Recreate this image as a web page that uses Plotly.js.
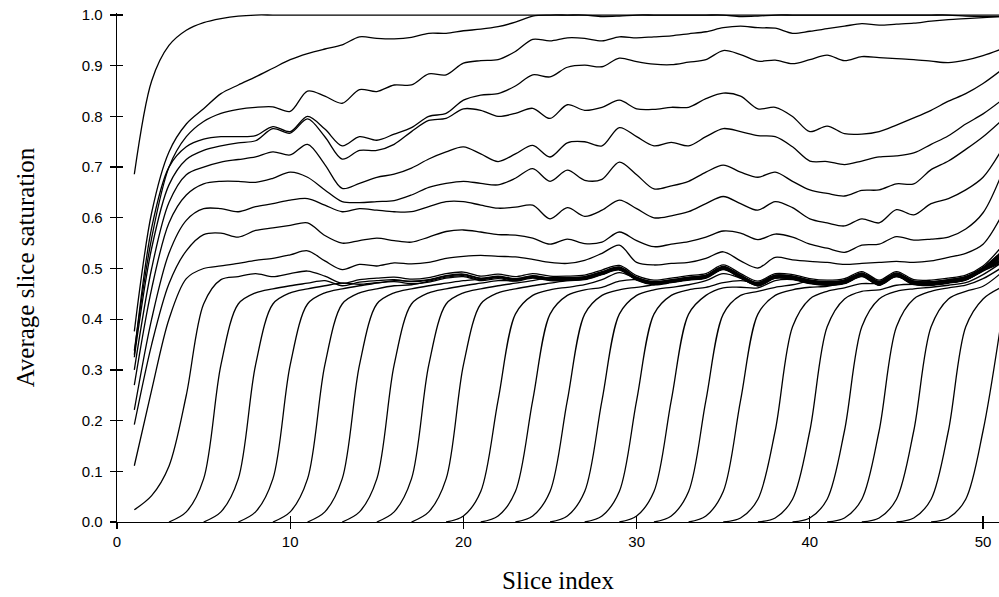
<!DOCTYPE html>
<html>
<head>
<meta charset="utf-8">
<script src="https://cdn.plot.ly/plotly-3.0.1.min.js"></script>
<style>html,body{margin:0;padding:0;background:#fff;}#chart{width:999px;height:597px;}</style>
</head>
<body>
<div id="chart"></div>
<script>
// Slice positions (x) shared by all curves
const slices = [1,2,3,4,5,6,7,8,9,10,11,12,13,14,15,16,17,18,19,20,21,22,23,24,25,26,27,28,29,30,31,32,33,34,35,36,37,38,39,40,41,42,43,44,45,46,47,48,49,50,51];
const tickX = [0,10,20,30,40,50];
const tickY = [0,0.1,0.2,0.3,0.4,0.5,0.6,0.7,0.8,0.9,1.0];
const tickYText = ['0.0','0.1','0.2','0.3','0.4','0.5','0.6','0.7','0.8','0.9','1.0'];

// Curves that already have saturation at slice 1 (values for slices 1..51)
const curveU1 = [0.686,0.87,0.94,0.97,0.985,0.993,0.998,1,1,1,1,1,1,1,1,1,1,1,1,1,1,1,1,1,1,1,1,1,1,1,1,1,1,1,1,1,1,1,1,1,1,1,1,1,1,1,1,1,1,1,1];
const curveU2 = [0.376,0.61,0.73,0.785,0.815,0.845,0.862,0.878,0.895,0.912,0.924,0.933,0.941,0.957,0.954,0.953,0.956,0.964,0.964,0.969,0.972,0.977,0.986,0.998,1,1,1,0.997,0.998,1,1,1,1,1,1,0.997,0.998,1,1,1,1,1,1,1,1,1,1,1,0.998,0.997,0.997];
const curveU3 = [0.338,0.56,0.70,0.76,0.79,0.806,0.814,0.818,0.819,0.81,0.85,0.84,0.826,0.853,0.849,0.862,0.862,0.884,0.882,0.905,0.91,0.912,0.928,0.952,0.949,0.955,0.954,0.949,0.957,0.955,0.957,0.959,0.963,0.967,0.975,0.978,0.975,0.974,0.964,0.968,0.973,0.978,0.983,0.98,0.982,0.984,0.988,0.991,0.993,0.995,0.997];
const curveU4 = [0.33,0.58,0.70,0.74,0.755,0.76,0.76,0.762,0.78,0.77,0.80,0.775,0.742,0.76,0.753,0.765,0.778,0.80,0.806,0.832,0.842,0.845,0.86,0.882,0.878,0.897,0.901,0.898,0.915,0.908,0.903,0.902,0.907,0.912,0.93,0.922,0.909,0.911,0.904,0.912,0.921,0.91,0.918,0.916,0.914,0.912,0.909,0.906,0.911,0.92,0.932];
const curveU5 = [0.325,0.54,0.665,0.715,0.733,0.742,0.748,0.752,0.776,0.767,0.795,0.76,0.716,0.733,0.733,0.745,0.77,0.792,0.796,0.815,0.812,0.80,0.806,0.816,0.796,0.823,0.812,0.818,0.832,0.815,0.814,0.818,0.818,0.835,0.846,0.84,0.815,0.818,0.80,0.77,0.781,0.766,0.765,0.77,0.783,0.797,0.812,0.83,0.845,0.865,0.89];
const curveU6 = [0.30,0.50,0.63,0.685,0.70,0.71,0.715,0.72,0.73,0.724,0.745,0.705,0.658,0.668,0.68,0.686,0.698,0.716,0.73,0.74,0.726,0.711,0.726,0.743,0.72,0.748,0.75,0.742,0.778,0.76,0.742,0.749,0.742,0.76,0.776,0.77,0.762,0.76,0.74,0.712,0.711,0.705,0.712,0.72,0.722,0.728,0.745,0.762,0.785,0.805,0.83];
const curveU7 = [0.27,0.46,0.59,0.645,0.667,0.672,0.672,0.67,0.678,0.69,0.68,0.655,0.632,0.63,0.632,0.634,0.645,0.66,0.668,0.672,0.668,0.665,0.678,0.697,0.672,0.694,0.674,0.676,0.71,0.685,0.657,0.663,0.672,0.69,0.704,0.69,0.68,0.69,0.672,0.655,0.648,0.643,0.654,0.655,0.667,0.667,0.695,0.712,0.735,0.76,0.79];
const curveU8 = [0.221,0.40,0.53,0.595,0.618,0.618,0.612,0.622,0.628,0.635,0.638,0.625,0.612,0.618,0.615,0.612,0.612,0.622,0.632,0.632,0.625,0.619,0.621,0.625,0.598,0.62,0.603,0.615,0.635,0.618,0.60,0.604,0.612,0.628,0.642,0.628,0.615,0.632,0.62,0.598,0.59,0.584,0.598,0.59,0.616,0.606,0.628,0.638,0.655,0.68,0.73];
const curveU9 = [0.192,0.35,0.47,0.535,0.567,0.57,0.562,0.575,0.58,0.585,0.59,0.565,0.55,0.555,0.56,0.555,0.552,0.562,0.573,0.576,0.572,0.567,0.566,0.56,0.548,0.558,0.549,0.552,0.572,0.555,0.543,0.548,0.553,0.562,0.574,0.57,0.557,0.568,0.562,0.548,0.54,0.532,0.546,0.548,0.563,0.556,0.558,0.562,0.578,0.61,0.68];
const curveU10 = [0.111,0.26,0.40,0.48,0.50,0.505,0.51,0.516,0.52,0.527,0.535,0.515,0.498,0.508,0.505,0.511,0.509,0.512,0.52,0.524,0.526,0.524,0.523,0.518,0.512,0.51,0.516,0.53,0.546,0.512,0.507,0.51,0.512,0.52,0.533,0.515,0.501,0.522,0.517,0.514,0.512,0.508,0.51,0.512,0.514,0.512,0.515,0.522,0.53,0.548,0.60];
const curveU11 = [0.024,0.052,0.11,0.25,0.43,0.478,0.484,0.49,0.484,0.49,0.495,0.485,0.471,0.478,0.481,0.483,0.479,0.482,0.49,0.493,0.485,0.489,0.484,0.49,0.485,0.485,0.487,0.497,0.506,0.486,0.477,0.481,0.486,0.49,0.507,0.49,0.475,0.49,0.488,0.48,0.477,0.48,0.494,0.477,0.494,0.478,0.477,0.481,0.487,0.505,0.54];

// Advancing fronts: first slice (value 0) of each front, then its values up to slice 51
const frontFirstSlice = [3,5,7,9,11,13,15,17,19,21,23,25,27,29,31,33,35,37,39,41,43,45,47];
const front00 = [0,0.02,0.085,0.31,0.43,0.452,0.46,0.466,0.471,0.476,0.466,0.473,0.476,0.478,0.474,0.477,0.485,0.488,0.48,0.484,0.479,0.485,0.48,0.48,0.482,0.492,0.501,0.481,0.472,0.476,0.481,0.485,0.502,0.485,0.47,0.485,0.483,0.475,0.472,0.475,0.489,0.472,0.489,0.473,0.472,0.476,0.482,0.5,0.525];
const front01 = [0,0.02,0.085,0.31,0.43,0.452,0.46,0.466,0.471,0.469,0.472,0.474,0.47,0.473,0.481,0.484,0.476,0.48,0.475,0.481,0.476,0.476,0.478,0.488,0.497,0.477,0.468,0.472,0.477,0.481,0.498,0.481,0.466,0.481,0.479,0.471,0.468,0.471,0.485,0.468,0.485,0.469,0.468,0.472,0.478,0.496,0.513];
const front02 = [0,0.02,0.085,0.31,0.43,0.452,0.46,0.466,0.471,0.476,0.475,0.478,0.486,0.489,0.481,0.485,0.48,0.486,0.481,0.481,0.483,0.493,0.502,0.482,0.473,0.477,0.482,0.486,0.503,0.486,0.471,0.486,0.484,0.476,0.473,0.476,0.49,0.473,0.49,0.474,0.473,0.477,0.483,0.501,0.528];
const front03 = [0,0.02,0.085,0.31,0.43,0.452,0.46,0.466,0.468,0.475,0.483,0.486,0.478,0.482,0.477,0.483,0.478,0.478,0.48,0.49,0.499,0.479,0.47,0.474,0.479,0.483,0.5,0.483,0.468,0.483,0.481,0.473,0.47,0.473,0.487,0.47,0.487,0.471,0.47,0.474,0.48,0.498,0.519];
const front04 = [0,0.02,0.085,0.31,0.43,0.452,0.46,0.466,0.471,0.476,0.479,0.483,0.478,0.484,0.479,0.479,0.481,0.491,0.5,0.48,0.471,0.475,0.48,0.484,0.501,0.484,0.469,0.484,0.482,0.474,0.471,0.474,0.488,0.471,0.488,0.472,0.471,0.475,0.481,0.499,0.522];
const front05 = [0,0.02,0.085,0.31,0.43,0.452,0.46,0.466,0.471,0.476,0.476,0.482,0.477,0.477,0.479,0.489,0.498,0.478,0.469,0.473,0.478,0.482,0.499,0.482,0.467,0.482,0.48,0.472,0.469,0.472,0.486,0.469,0.486,0.47,0.469,0.473,0.479,0.497,0.516];
const front06 = [0,0.02,0.085,0.31,0.43,0.452,0.46,0.466,0.471,0.476,0.482,0.482,0.484,0.494,0.503,0.483,0.474,0.478,0.483,0.487,0.504,0.487,0.472,0.487,0.485,0.477,0.474,0.477,0.491,0.474,0.491,0.475,0.474,0.478,0.484,0.502,0.531];
const front07 = [0,0.02,0.085,0.31,0.43,0.452,0.46,0.466,0.471,0.476,0.479,0.489,0.498,0.478,0.469,0.473,0.478,0.482,0.499,0.482,0.467,0.482,0.48,0.472,0.469,0.472,0.486,0.469,0.486,0.47,0.469,0.473,0.479,0.497,0.516];
const front08 = [0,0.012,0.06,0.24,0.41,0.447,0.458,0.463,0.468,0.478,0.492,0.48,0.471,0.475,0.48,0.484,0.501,0.484,0.469,0.484,0.482,0.474,0.471,0.474,0.488,0.471,0.488,0.472,0.471,0.475,0.481,0.499,0.522];
const front09 = [0,0.012,0.06,0.24,0.41,0.447,0.458,0.463,0.475,0.478,0.469,0.473,0.478,0.482,0.499,0.482,0.467,0.482,0.48,0.472,0.469,0.472,0.486,0.469,0.486,0.47,0.469,0.473,0.479,0.497,0.516];
const front10 = [0,0.012,0.06,0.24,0.41,0.447,0.458,0.463,0.468,0.476,0.482,0.486,0.503,0.486,0.471,0.486,0.484,0.476,0.473,0.476,0.49,0.473,0.49,0.474,0.473,0.477,0.483,0.501,0.528];
const front11 = [0,0.012,0.06,0.24,0.41,0.447,0.458,0.463,0.468,0.476,0.49,0.481,0.466,0.481,0.479,0.471,0.468,0.471,0.485,0.468,0.485,0.469,0.468,0.472,0.478,0.496,0.513];
const front12 = [0,0.012,0.06,0.24,0.41,0.447,0.458,0.463,0.472,0.476,0.472,0.487,0.485,0.477,0.474,0.477,0.491,0.474,0.491,0.475,0.474,0.478,0.484,0.502,0.531];
const front13 = [0,0.012,0.06,0.24,0.41,0.447,0.462,0.463,0.462,0.476,0.478,0.47,0.467,0.47,0.484,0.467,0.484,0.468,0.467,0.471,0.477,0.495,0.51];
const front14 = [0,0.012,0.06,0.24,0.41,0.447,0.455,0.463,0.468,0.475,0.472,0.475,0.489,0.472,0.489,0.473,0.472,0.476,0.482,0.5,0.525];
const front15 = [0,0.012,0.06,0.24,0.41,0.447,0.458,0.463,0.465,0.472,0.486,0.469,0.486,0.47,0.469,0.473,0.479,0.497,0.516];
const front16 = [0,0.008,0.045,0.18,0.385,0.44,0.455,0.462,0.47,0.471,0.484,0.472,0.471,0.475,0.481,0.499,0.522];
const front17 = [0,0.008,0.045,0.18,0.385,0.44,0.455,0.458,0.467,0.469,0.468,0.472,0.478,0.496,0.513];
const front18 = [0,0.008,0.045,0.18,0.385,0.44,0.455,0.46,0.463,0.467,0.472,0.488,0.51];
const front19 = [0,0.008,0.045,0.18,0.385,0.44,0.455,0.462,0.467,0.48,0.5];
const front20 = [0,0.008,0.045,0.18,0.385,0.44,0.455,0.465,0.49];
const front21 = [0,0.008,0.045,0.18,0.385,0.44,0.462];
const front22 = [0,0.008,0.045,0.18,0.385];

const upperCurves = [curveU1,curveU2,curveU3,curveU4,curveU5,curveU6,curveU7,curveU8,curveU9,curveU10,curveU11];
const fronts = [front00,front01,front02,front03,front04,front05,front06,front07,front08,front09,front10,front11,front12,front13,front14,front15,front16,front17,front18,front19,front20,front21,front22];

const lineStyle = {color:'#000', width:1.3, shape:'spline', smoothing:0.9};
const traces = [];
upperCurves.forEach(function(c){
  traces.push({type:'scatter', mode:'lines', x:slices, y:c, line:lineStyle, hoverinfo:'skip', showlegend:false});
});
fronts.forEach(function(c, i){
  traces.push({type:'scatter', mode:'lines', x:slices.slice(frontFirstSlice[i]-1), y:c, line:lineStyle, hoverinfo:'skip', showlegend:false});
});
// helper trace for the inner half of the crossing tick marks
traces.push({type:'scatter', mode:'lines', x:[-5], y:[-5], xaxis:'x2', yaxis:'y2', hoverinfo:'skip', showlegend:false, line:{color:'rgba(0,0,0,0)'}});

const xRange = [0, 50.92];
const yRange = [0, 1.004];
const tickFont = {family:'"Liberation Sans", Arial, Helvetica, sans-serif', size:15, color:'#000'};
const titleFont = {family:'"Liberation Serif", "Times New Roman", Times, serif', size:25, color:'#000'};

const layout = {
  width:999, height:597,
  margin:{l:117, r:0, t:13, b:75, pad:0},
  paper_bgcolor:'#fff', plot_bgcolor:'#fff',
  showlegend:false,
  xaxis:{range:xRange, tickmode:'array', tickvals:tickX, ticktext:tickX.map(String), ticks:'outside', ticklen:6, tickwidth:1.3, tickcolor:'#000',
         showline:true, linecolor:'#000', linewidth:1.3, showgrid:false, zeroline:false, tickfont:tickFont, ticklabelstandoff:0,
         title:{text:'Slice index', font:titleFont, standoff:22}},
  yaxis:{range:yRange, tickmode:'array', tickvals:tickY, ticktext:tickYText, ticks:'outside', ticklen:6, tickwidth:1.3, tickcolor:'#000',
         showline:true, linecolor:'#000', linewidth:1.3, showgrid:false, zeroline:false, tickfont:tickFont, ticklabelstandoff:4,
         title:{text:'Average slice saturation', font:titleFont, standoff:40}},
  xaxis2:{overlaying:'x', anchor:'y2', side:'bottom', range:xRange, tickmode:'array', tickvals:tickX, ticks:'inside', ticklen:6, tickwidth:1.3, tickcolor:'#000',
          showticklabels:false, showline:false, showgrid:false, zeroline:false},
  yaxis2:{overlaying:'y', anchor:'x2', side:'left', range:yRange, tickmode:'array', tickvals:tickY, ticks:'inside', ticklen:6, tickwidth:1.3, tickcolor:'#000',
          showticklabels:false, showline:false, showgrid:false, zeroline:false}
};

Plotly.newPlot('chart', traces, layout, {staticPlot:true, displayModeBar:false});
</script>
</body>
</html>
